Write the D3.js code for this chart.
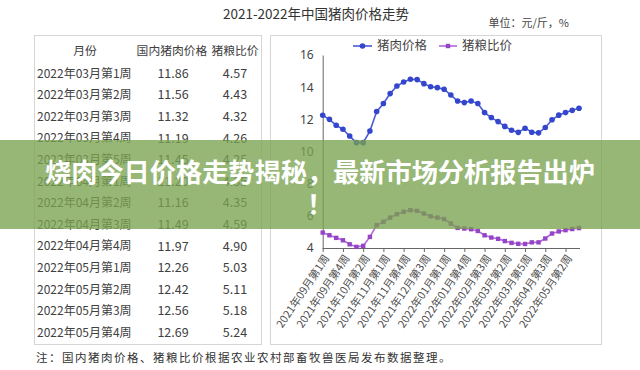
<!DOCTYPE html>
<html><head><meta charset="utf-8">
<script src="https://cdn.jsdelivr.net/npm/d3@7"></script>
<style>
html,body{margin:0;padding:0;background:#fff;}
svg{display:block;font-family:"Noto Sans CJK SC","Noto Sans",sans-serif;}
</style></head>
<body><svg id="c" width="640" height="370"></svg>
<script>
// ---- data ----
const weeks = [
 "2021年09月第1周","2021年09月第2周","2021年09月第3周","2021年09月第4周","2021年09月第5周",
 "2021年10月第1周","2021年10月第2周","2021年10月第3周","2021年10月第4周",
 "2021年11月第1周","2021年11月第2周","2021年11月第3周","2021年11月第4周",
 "2021年12月第1周","2021年12月第2周","2021年12月第3周","2021年12月第4周","2021年12月第5周",
 "2022年01月第1周","2022年01月第2周","2022年01月第3周","2022年01月第4周",
 "2022年02月第1周","2022年02月第2周","2022年02月第3周","2022年02月第4周",
 "2022年03月第1周","2022年03月第2周","2022年03月第3周","2022年03月第4周","2022年03月第5周",
 "2022年04月第1周","2022年04月第2周","2022年04月第3周","2022年04月第4周",
 "2022年05月第1周","2022年05月第2周","2022年05月第3周","2022年05月第4周"
];
const porkPrice = [12.25,12.00,11.63,11.38,10.96,10.55,10.55,11.27,12.48,12.98,13.60,14.07,14.32,14.49,14.47,14.22,14.03,13.97,13.87,13.51,13.14,13.04,13.14,12.98,12.42,12.11,11.86,11.56,11.32,11.19,11.45,11.20,11.16,11.49,11.97,12.26,12.42,12.56,12.69];
const hogGrainRatio = [4.96,4.79,4.63,4.48,4.23,4.07,4.13,4.69,5.42,5.63,5.89,6.10,6.25,6.35,6.31,6.14,5.97,5.89,5.80,5.52,5.25,5.21,5.17,5.06,4.79,4.65,4.57,4.43,4.32,4.26,4.25,4.35,4.35,4.59,4.90,5.03,5.11,5.18,5.24];
const xTickLabels = ["2021年09月第1周","2021年09月第4周","2021年10月第2周","2021年11月第1周","2021年11月第4周","2021年12月第3周","2022年01月第1周","2022年01月第4周","2022年02月第3周","2022年03月第2周","2022年03月第5周","2022年04月第3周","2022年05月第2周"];
const yTicks = [4,6,8,10,12,14,16];
const tableHeader = ["月份","国内猪肉价格","猪粮比价"];
const tableWeeks = ["2022年03月第1周","2022年03月第2周","2022年03月第3周","2022年03月第4周","2022年03月第5周","2022年04月第1周","2022年04月第2周","2022年04月第3周","2022年04月第4周","2022年05月第1周","2022年05月第2周","2022年05月第3周","2022年05月第4周"];
const tablePork = ["11.86","11.56","11.32","11.19","11.45","11.20","11.16","11.49","11.97","12.26","12.42","12.56","12.69"];
const tableRatio = ["4.57","4.43","4.32","4.26","4.25","4.35","4.35","4.59","4.90","5.03","5.11","5.18","5.24"];
const seriesNames = ["猪肉价格","猪粮比价"];

const svg = d3.select("#c");
const txt = "#404040";

// title
svg.append("text").attr("x",316).attr("y",19).attr("text-anchor","middle")
  .attr("font-size",13.5).attr("fill","#333").text("2021-2022年中国猪肉价格走势");
svg.append("text").attr("x",569).attr("y",27).attr("text-anchor","end")
  .attr("font-size",11).attr("fill","#444").text("单位：元/斤，%");

// boxes
svg.append("rect").attr("x",34.5).attr("y",35.5).attr("width",227).attr("height",309)
  .attr("fill","none").attr("stroke","#d6d6d6");
svg.append("rect").attr("x",270.5).attr("y",35.5).attr("width",331).attr("height",309)
  .attr("fill","none").attr("stroke","#d6d6d6");

// table
const colX = [85,172,235];
tableHeader.forEach((h,i)=>{
  svg.append("text").attr("x",colX[i]).attr("y",51).attr("dy","0.35em")
    .attr("text-anchor","middle").attr("font-size",11.8).attr("fill",txt).text(h);
});
const rowY = d3.scaleLinear().domain([0,12]).range([73.3,332.7]);
tableWeeks.forEach((w,i)=>{
  const y = rowY(i);
  svg.append("text").attr("x",37).attr("y",y).attr("dy","0.35em")
    .attr("font-size",12).attr("fill",txt).text(w);
  svg.append("text").attr("x",colX[1]+1).attr("y",y).attr("dy","0.35em").attr("text-anchor","middle")
    .attr("font-size",12.5).attr("fill",txt).text(tablePork[i]);
  svg.append("text").attr("x",colX[2]).attr("y",y).attr("dy","0.35em").attr("text-anchor","middle")
    .attr("font-size",12.5).attr("fill",txt).text(tableRatio[i]);
});

// chart
const x = d3.scalePoint().domain(weeks).range([322.7,579]);
const y = d3.scaleLinear().domain([4,16]).range([248,55]);

const yAxis = svg.append("g").attr("transform","translate(322.7,0)")
  .call(d3.axisLeft(y).tickValues(yTicks).tickSize(0).tickPadding(9).tickFormat(d3.format("d")));
yAxis.select(".domain").attr("stroke","#666");
yAxis.selectAll("text").attr("font-size",12).attr("fill","#444").attr("font-family","Noto Sans, sans-serif");

const xAxis = svg.append("g").attr("transform","translate(0,248)")
  .call(d3.axisBottom(x).tickValues(xTickLabels).tickSize(4).tickSizeOuter(0).tickFormat(""));
xAxis.select(".domain").attr("stroke","#666").attr("d","M322.7,0.5H580");
xAxis.selectAll(".tick line").attr("stroke","#666");
xTickLabels.forEach(l=>{
  svg.append("text").attr("transform",`translate(${x(l)+4},256) rotate(-56)`)
    .attr("text-anchor","end").attr("dy","0.35em").attr("font-size",10.8).attr("fill","#505050").text(l);
});

const blue="#3346cc";
const lineP = d3.line().x((d,i)=>x(weeks[i])).y(d=>y(d));
svg.append("path").datum(porkPrice).attr("d",lineP).attr("fill","none").attr("stroke","#4a5ad6").attr("stroke-width",1.6);
svg.selectAll(".pc").data(porkPrice).enter().append("circle")
  .attr("cx",(d,i)=>x(weeks[i])).attr("cy",d=>y(d)).attr("r",2.8).attr("fill",blue);
svg.append("path").datum(hogGrainRatio).attr("d",lineP).attr("fill","none").attr("stroke","#b066dd").attr("stroke-width",1.6);
svg.selectAll(".pq").data(hogGrainRatio).enter().append("rect")
  .attr("x",(d,i)=>x(weeks[i])-2.2).attr("y",d=>y(d)-2.2).attr("width",4.4).attr("height",4.4).attr("fill","#9444c4");

// legend
const lg = svg.append("g");
lg.append("line").attr("x1",353).attr("x2",372).attr("y1",46).attr("y2",46).attr("stroke","#4a5ad6").attr("stroke-width",1.6);
lg.append("circle").attr("cx",362.5).attr("cy",46).attr("r",2.8).attr("fill",blue);
lg.append("text").attr("x",377).attr("y",46).attr("dy","0.35em").attr("font-size",12.5).attr("fill","#444").text(seriesNames[0]);
lg.append("line").attr("x1",439).attr("x2",457).attr("y1",46).attr("y2",46).attr("stroke","#b066dd").attr("stroke-width",1.6);
lg.append("rect").attr("x",445.8).attr("y",43.8).attr("width",4.4).attr("height",4.4).attr("fill","#9444c4");
lg.append("text").attr("x",462).attr("y",46).attr("dy","0.35em").attr("font-size",12.5).attr("fill","#444").text(seriesNames[1]);

// footnote
svg.append("text").attr("x",36).attr("y",362).attr("font-size",11.5).attr("letter-spacing",1.5)
  .attr("fill","#333").text("注：国内猪肉价格、猪粮比价根据农业农村部畜牧兽医局发布数据整理。");

// banner overlay
svg.append("rect").attr("x",0).attr("y",140).attr("width",640).attr("height",89)
  .attr("fill","#7aa34f").attr("opacity",0.78);
svg.append("text").attr("x",320).attr("y",182).attr("text-anchor","middle")
  .attr("font-size",26.2).attr("font-weight","bold").attr("fill","#fff").text("烧肉今日价格走势揭秘，最新市场分析报告出炉");
svg.append("text").attr("x",320).attr("y",214).attr("text-anchor","middle")
  .attr("font-size",26.2).attr("font-weight","bold").attr("fill","#fff").text("！");
</script></body></html>
